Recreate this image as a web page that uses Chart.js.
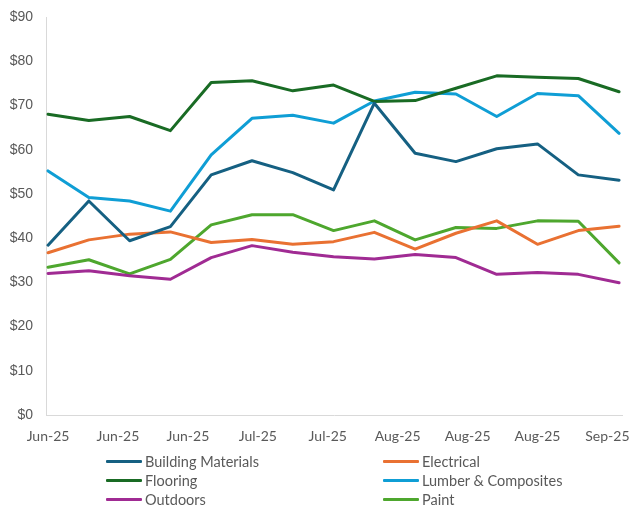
<!DOCTYPE html>
<html>
<head>
<meta charset="utf-8">
<script src="https://cdn.jsdelivr.net/npm/chart.js@4.4.1/dist/chart.umd.min.js"></script>
<style>
  html, body { margin: 0; padding: 0; background: #fff; }
  #wrap { position: relative; width: 630px; height: 508px; }
  #legend { position: absolute; left: 106px; top: 453px; display: grid;
            grid-template-columns: 277px 210px; row-gap: 3px;
            font: 14.5px Lato, "Liberation Sans", sans-serif; color: #595959; }
  .item { display: flex; align-items: center; height: 16px; white-space: nowrap; }
  .swatch { width: 36px; height: 3px; margin-right: 3px; border-radius: 1px; }
</style>
</head>
<body>
<div id="wrap">
  <canvas id="chart" width="630" height="508"></canvas>
  <div id="legend"></div>
</div>
<script>
// weekly observation dates
var weekDates = ['2025-06-03','2025-06-10','2025-06-17','2025-06-24','2025-07-01',
  '2025-07-08','2025-07-15','2025-07-22','2025-07-29','2025-08-05','2025-08-12',
  '2025-08-19','2025-08-26','2025-09-02','2025-09-09'];

// axis tick positions and their labels
var tickDates = ['2025-06-03','2025-06-15','2025-06-27','2025-07-09','2025-07-21',
  '2025-08-02','2025-08-14','2025-08-26','2025-09-07'];
var tickLabels = ['Jun-25','Jun-25','Jun-25','Jul-25','Jul-25','Aug-25','Aug-25','Aug-25','Sep-25'];

var seriesNames = ['Building Materials','Electrical','Flooring','Lumber & Composites','Outdoors','Paint'];
var seriesColors = ['#156082','#E97132','#196B24','#0F9ED5','#A02B93','#4EA72E'];

var buildingMaterials = [38.4,48.4,39.4,42.6,54.3,57.5,54.8,50.9,70.5,59.2,57.3,60.2,61.3,54.3,53.1];
var electrical        = [36.7,39.6,40.9,41.4,39.0,39.7,38.6,39.2,41.3,37.5,41.1,43.9,38.6,41.7,42.7];
var flooring          = [68.0,66.6,67.5,64.3,75.2,75.6,73.3,74.6,70.9,71.1,73.9,76.7,76.4,76.1,73.1];
var lumber            = [55.2,49.2,48.4,46.1,58.8,67.1,67.8,66.0,71.0,73.0,72.6,67.5,72.7,72.2,63.7];
var outdoors          = [32.0,32.6,31.5,30.7,35.6,38.3,36.8,35.8,35.3,36.3,35.6,31.8,32.2,31.8,29.9];
var paint             = [33.4,35.1,31.9,35.2,43.0,45.3,45.3,41.7,43.9,39.6,42.4,42.2,43.9,43.8,34.4];

var allSeries = [buildingMaterials, electrical, flooring, lumber, outdoors, paint];

var DAY = 86400000;
var start = Date.parse(weekDates[0]);
function dayOf(s) { return Math.round((Date.parse(s) - start) / DAY); }
var tickDays = tickDates.map(dayOf);

var datasets = allSeries.map(function (vals, i) {
  return {
    label: seriesNames[i],
    data: vals.map(function (v, j) { return { x: dayOf(weekDates[j]), y: v }; }),
    borderColor: seriesColors[i],
    backgroundColor: seriesColors[i],
    borderWidth: 3,
    pointRadius: 0,
    tension: 0,
    borderCapStyle: 'round',
    borderJoinStyle: 'round'
  };
});

var ctx = document.getElementById('chart').getContext('2d');
new Chart(ctx, {
  type: 'line',
  data: { datasets: datasets },
  options: {
    responsive: false,
    animation: false,
    layout: { padding: { top: 17, right: 8, bottom: 63, left: 0 } },
    plugins: { legend: { display: false }, tooltip: { enabled: false } },
    scales: {
      x: {
        type: 'linear',
        min: -0.35,
        max: 98.5,
        afterBuildTicks: function (axis) {
          axis.ticks = tickDays.map(function (d) { return { value: d }; });
        },
        afterFit: function (axis) {
          axis.height = 30;
          axis.paddingLeft = 0;
          axis.paddingRight = 0;
        },
        grid: { display: false, drawTicks: false },
        border: { display: true, color: '#d9d9d9', width: 1 },
        ticks: {
          maxRotation: 0,
          autoSkip: false,
          padding: 13,
          color: '#595959',
          font: { family: 'Lato, "Liberation Sans", sans-serif', size: 14 },
          callback: function (v, idx) { return tickLabels[idx]; }
        }
      },
      y: {
        min: 0,
        max: 90,
        afterFit: function (axis) {
          axis.width = 46;
          axis.paddingTop = 0;
          axis.paddingBottom = 0;
        },
        grid: { display: false, drawTicks: false },
        border: { display: true, color: '#d9d9d9', width: 1 },
        ticks: {
          stepSize: 10,
          padding: 13,
          color: '#595959',
          font: { family: '"Liberation Sans", Arial, sans-serif', size: 14 },
          callback: function (v) { return '$' + v; }
        }
      }
    }
  }
});

// two-column legend like the original
var legend = document.getElementById('legend');
seriesNames.forEach(function (name, i) {
  var item = document.createElement('div');
  item.className = 'item';
  var sw = document.createElement('span');
  sw.className = 'swatch';
  sw.style.background = seriesColors[i];
  item.appendChild(sw);
  item.appendChild(document.createTextNode(name));
  legend.appendChild(item);
});
</script>
</body>
</html>
